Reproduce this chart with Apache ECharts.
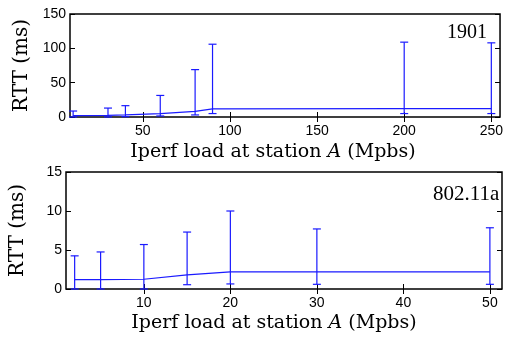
<!DOCTYPE html>
<html>
<head>
<meta charset="utf-8">
<script src="https://cdn.jsdelivr.net/npm/echarts@6/dist/echarts.min.js"></script>
<style>
  html, body { margin: 0; padding: 0; background: #fff; }
  #chart { width: 506px; height: 339px; }
</style>
</head>
<body>
<div id="chart"></div>
<script>
// 1901 panel
const loadTop = [10, 30, 40, 60, 80, 90, 200, 250];
const meanTop = [2, 2.5, 3.2, 5, 8.3, 11.8, 12.2, 12.2];
const lowTop = [0, 0, 0.5, 1.5, 3, 5, 5, 5];
const highTop = [8.7, 13, 16.5, 31.4, 69, 106, 109, 108];
const xTicksTop = [50, 100, 150, 200, 250];

// 802.11a panel
const loadBot = [2, 5, 10, 15, 20, 30, 50];
const meanBot = [1.2, 1.2, 1.25, 1.8, 2.2, 2.2, 2.2];
const lowBot = [0, 0, 0, 0.55, 0.65, 0.6, 0.6];
const highBot = [4.25, 4.75, 5.7, 7.3, 10.0, 7.7, 7.85];
const xTicksBot = [10, 20, 30, 40, 50];

const blue = '#1a1aff';
const serif = '"DejaVu Serif", serif';
const numSerif = '"Liberation Serif", serif';
const sans = '"Liberation Sans", Arial, sans-serif';

const chart = echarts.init(document.getElementById('chart'), null, { renderer: 'canvas' });

function errBar(params, api) {
  const x = api.value(0);
  const top = api.coord([x, api.value(2)]);
  const bot = api.coord([x, api.value(1)]);
  const w = 4;
  const style = { stroke: blue, lineWidth: 1.2 };
  return {
    type: 'group',
    children: [
      { type: 'line', shape: { x1: top[0], y1: top[1], x2: bot[0], y2: bot[1] }, style },
      { type: 'line', shape: { x1: top[0] - w, y1: top[1], x2: top[0] + w, y2: top[1] }, style },
      { type: 'line', shape: { x1: bot[0] - w, y1: bot[1], x2: bot[0] + w, y2: bot[1] }, style }
    ]
  };
}

function xAx(gi, min, max, ticks, pos, labels) {
  return {
    type: 'value', gridIndex: gi, min, max, position: pos,
    splitLine: { show: false },
    axisLine: { show: false },
    axisTick: { show: true, inside: true, length: 5, customValues: ticks, lineStyle: { color: '#000' } },
    axisLabel: { show: labels, customValues: ticks, fontFamily: sans, fontSize: 14, color: '#000', margin: 7 }
  };
}

function yAx(gi, max, interval, pos, labels, name) {
  return {
    type: 'value', gridIndex: gi, min: 0, max, interval, position: pos,
    name: name || '', nameLocation: 'middle', nameGap: 38, nameRotate: 90,
    nameTextStyle: { fontFamily: serif, fontSize: 20, color: '#000' },
    splitLine: { show: false },
    axisLine: { show: false },
    axisTick: { show: true, inside: true, length: 5, lineStyle: { color: '#000' } },
    axisLabel: { show: labels, fontFamily: sans, fontSize: 14, color: '#000', margin: 4 }
  };
}

function xTitle(cx, cy) {
  return {
    type: 'text', x: cx, y: cy,
    style: {
      text: 'Iperf load at station {i|A} (Mpbs)',
      align: 'center', verticalAlign: 'middle',
      rich: { i: { fontStyle: 'italic', fontFamily: serif, fontSize: 19, fill: '#000' } },
      fontFamily: serif, fontSize: 19, fill: '#000'
    }
  };
}

const option = {
  animation: false,
  grid: [
    { left: 70, top: 14, width: 433, height: 103, show: true, borderColor: '#000', borderWidth: 1.5, backgroundColor: '#fff' },
    { left: 65, top: 172, width: 437, height: 117, show: true, borderColor: '#000', borderWidth: 1.5, backgroundColor: '#fff' }
  ],
  xAxis: [
    xAx(0, 8.2, 255, xTicksTop, 'bottom', true),
    xAx(0, 8.2, 255, xTicksTop, 'top', false),
    xAx(1, 1, 51.4, xTicksBot, 'bottom', true),
    xAx(1, 1, 51.4, xTicksBot, 'top', false)
  ],
  yAxis: [
    yAx(0, 150, 50, 'left', true, 'RTT (ms)'),
    yAx(0, 150, 50, 'right', false),
    yAx(1, 15, 5, 'left', true, 'RTT (ms)'),
    yAx(1, 15, 5, 'right', false)
  ],
  graphic: [
    xTitle(273, 152),
    xTitle(274, 323),
    { type: 'text', x: 447, y: 23, style: { text: '1901', fontFamily: numSerif, fontSize: 20, fill: '#000' } },
    { type: 'text', x: 433, y: 184, style: { text: '802.11a', fontFamily: numSerif, fontSize: 21, fill: '#000' } }
  ],
  series: [
    {
      type: 'line', xAxisIndex: 0, yAxisIndex: 0, symbol: 'none',
      data: loadTop.map((x, i) => [x, meanTop[i]]),
      lineStyle: { color: blue, width: 1.2 }
    },
    {
      type: 'custom', xAxisIndex: 0, yAxisIndex: 0, renderItem: errBar,
      encode: { x: 0, y: [1, 2] },
      data: loadTop.map((x, i) => [x, lowTop[i], highTop[i]])
    },
    {
      type: 'line', xAxisIndex: 2, yAxisIndex: 2, symbol: 'none',
      data: loadBot.map((x, i) => [x, meanBot[i]]),
      lineStyle: { color: blue, width: 1.2 }
    },
    {
      type: 'custom', xAxisIndex: 2, yAxisIndex: 2, renderItem: errBar,
      encode: { x: 0, y: [1, 2] },
      data: loadBot.map((x, i) => [x, lowBot[i], highBot[i]])
    }
  ]
};

chart.setOption(option);
window.addEventListener('resize', () => chart.resize());
</script>
</body>
</html>
